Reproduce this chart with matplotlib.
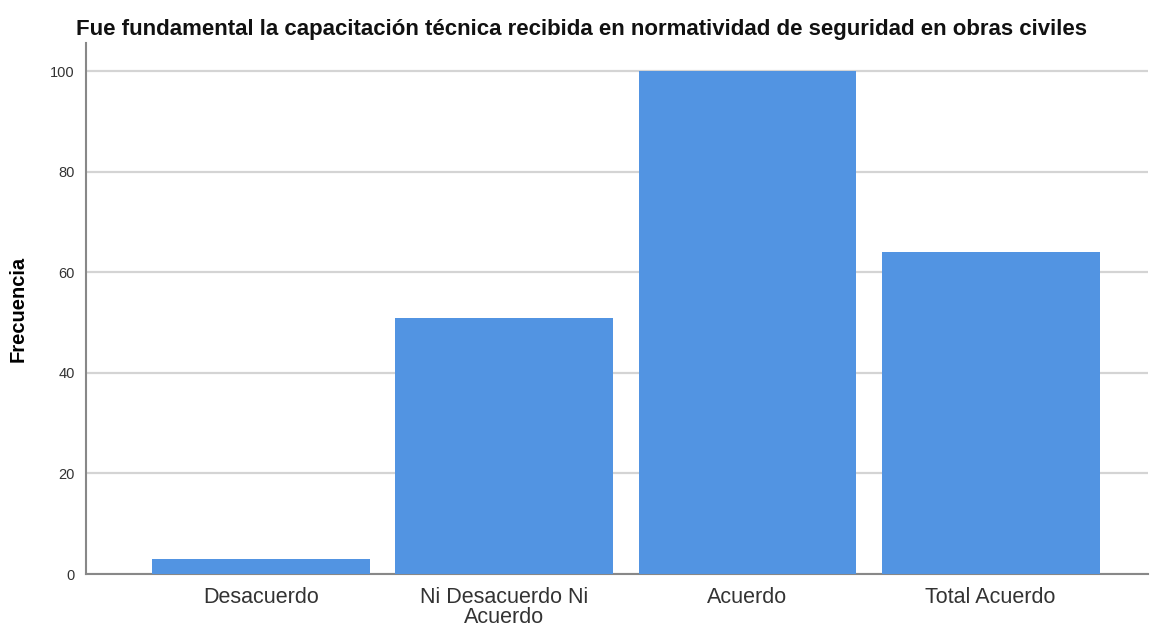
import matplotlib.pyplot as plt

categories = ["Desacuerdo", "Ni Desacuerdo Ni\nAcuerdo", "Acuerdo", "Total Acuerdo"]
frecuencia = [3, 51, 100, 64]
yticks = [0, 20, 40, 60, 80, 100]

plt.rcParams["font.family"] = ["Liberation Sans", "DejaVu Sans"]

fig = plt.figure(figsize=(11.51, 6.27), dpi=100)
ax = fig.add_axes([0.0747, 0.0845, 0.9223, 0.8465])

x = range(len(categories))
ax.bar(x, frecuencia, width=0.895, color="#5294e2", zorder=3)

ax.set_xlim(-0.72, 3.645)
ax.set_ylim(0, 105.6)
ax.set_yticks(yticks)
ax.set_xticks(list(x))
ax.set_xticklabels(categories, fontsize=15.5, color="#333333", linespacing=0.98)
ax.tick_params(axis="y", labelsize=10.5, colors="#333333", length=0, pad=8)
ax.tick_params(axis="x", length=0, pad=9)

ax.grid(axis="y", color="#d4d4d4", linewidth=1.6, zorder=0)
for s in ["top", "right"]:
    ax.spines[s].set_visible(False)
for s in ["left", "bottom"]:
    ax.spines[s].set_color("#888888")
    ax.spines[s].set_linewidth(1.5)

ax.set_ylabel("Frecuencia", fontsize=14.5, fontweight="bold")
ax.yaxis.set_label_coords(-0.055, 0.5)
fig.text(0.505, 0.953, "Fue fundamental la capacitación técnica recibida en normatividad de seguridad en obras civiles",
         ha="center", va="center", fontsize=16, fontweight="bold", color="#111111")

fig.savefig("out.png", dpi=100)
